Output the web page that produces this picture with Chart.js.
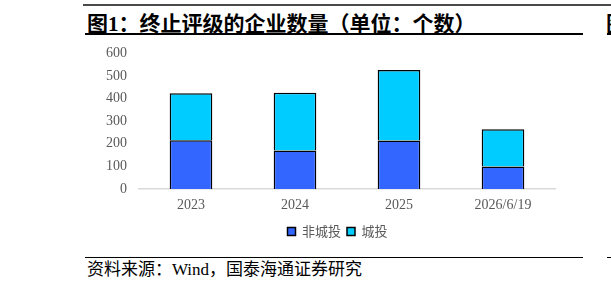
<!DOCTYPE html>
<html>
<head>
<meta charset="utf-8">
<script src="https://cdn.jsdelivr.net/npm/chart.js@4/dist/chart.umd.min.js"></script>
<style>
  html, body { margin: 0; padding: 0; background: #fff; }
  body { width: 611px; height: 290px; position: relative; overflow: hidden; }
  .topline { position: absolute; left: 83px; top: 4px; width: 528px; height: 2px; background: #4a4a4a; }
  .title { position: absolute; left: 87px; top: 7px; font: bold 21px "Liberation Serif", "Noto Sans CJK SC", serif; color: #000; white-space: nowrap; }
  .rule { position: absolute; height: 1px; background: #000; }
  .source { position: absolute; left: 87px; top: 255px; font: 17px "Liberation Serif", "Noto Sans CJK SC", serif; color: #000; white-space: nowrap; }
  .edge { position: absolute; left: 606px; top: 7px; font: bold 21px "Noto Sans CJK SC", serif; color: #000; }
  #wrap { position: absolute; left: 80px; top: 33px; width: 500px; height: 215px; }
</style>
</head>
<body>
<div class="topline"></div>
<div class="title">图1：终止评级的企业数量（单位：个数）</div>
<div class="rule" style="left:85px; top:33px; width:498px; height:1.5px;"></div>
<div class="edge">图</div>
<div class="rule" style="left:607px; top:33px; width:4px; height:1.5px;"></div>
<div id="wrap"><canvas id="c"></canvas></div>
<div class="rule" style="left:85px; top:257px; width:498px;"></div>
<div class="rule" style="left:607px; top:257px; width:4px;"></div>
<div class="source">资料来源：Wind，国泰海通证券研究</div>

<script>
// Values
var categories = ['2023', '2024', '2025', '2026/6/19'];
var nonUrban = [216, 170, 215, 100];   // 非城投
var urban    = [208, 256, 312, 164];   // 城投
var yTicks   = [0, 100, 200, 300, 400, 500, 600];

var tickFont = { family: '"Liberation Serif", "Noto Sans CJK SC", serif', size: 14 };

// legend in the reference sits a bit right of the canvas centre
var legendShift = {
  id: 'legendShift',
  afterLayout: function (chart) {
    var lg = chart.legend;
    if (!lg) return;
    lg.left += 20;
    lg.right += 20;
  }
};

new Chart(document.getElementById('c'), {
  type: 'bar',
  plugins: [legendShift],
  data: {
    labels: categories,
    datasets: [
      {
        label: '非城投',
        data: nonUrban,
        backgroundColor: '#3366ff',
        borderColor: '#000',
        borderWidth: 1.5,
        barPercentage: 0.41,
        categoryPercentage: 1
      },
      {
        label: '城投',
        data: urban,
        backgroundColor: '#00ccff',
        borderColor: '#000',
        borderWidth: 1.5,
        barPercentage: 0.41,
        categoryPercentage: 1
      }
    ]
  },
  options: {
    responsive: true,
    maintainAspectRatio: false,
    animation: false,
    layout: { padding: { top: 12, right: 25, left: 0, bottom: 0 } },
    scales: {
      x: {
        stacked: true,
        grid: { display: false, drawTicks: false },
        border: { display: true, color: '#d9d9d9', width: 1.5 },
        ticks: { color: '#595959', font: tickFont, padding: 8 },
        afterFit: function (s) { s.height = 30; }
      },
      y: {
        stacked: true,
        min: 0,
        max: 600,
        grid: { display: false, drawTicks: false },
        border: { display: false },
        afterBuildTicks: function (s) { s.ticks = yTicks.map(function (v) { return { value: v }; }); },
        ticks: { color: '#595959', font: tickFont, padding: 12 },
        afterFit: function (s) { s.width = 59; }
      }
    },
    plugins: {
      legend: {
        position: 'bottom',
        labels: {
          boxWidth: 8,
          boxHeight: 8,
          padding: 6,
          color: '#595959',
          font: { family: '"Noto Sans CJK SC", serif', size: 13 }
        }
      },
      tooltip: { enabled: false }
    }
  }
});
</script>
</body>
</html>
